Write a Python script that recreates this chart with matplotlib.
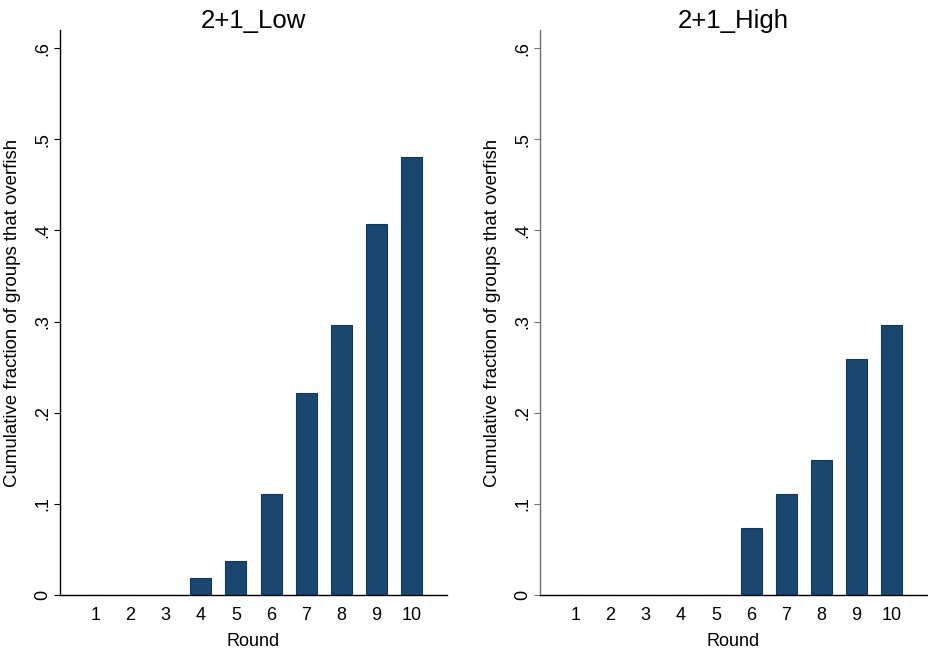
import matplotlib
matplotlib.use("Agg")
import matplotlib.pyplot as plt

rounds = [1, 2, 3, 4, 5, 6, 7, 8, 9, 10]
low = [0, 0, 0, 0.0185, 0.037, 0.111, 0.222, 0.296, 0.407, 0.481]
high = [0, 0, 0, 0, 0, 0.074, 0.111, 0.148, 0.259, 0.296]
titles = ["2+1_Low", "2+1_High"]
yticks = [0, 0.1, 0.2, 0.3, 0.4, 0.5, 0.6]
ytick_labels = ["0", ".1", ".2", ".3", ".4", ".5", ".6"]

plt.rcParams["font.family"] = ["Liberation Sans", "DejaVu Sans"]
navy = "#1a476f"

fig = plt.figure(figsize=(9.29, 6.5), dpi=100)
W, H = 929, 650
# axes boxes in pixels: left, right
boxes = [(60, 447), (540, 927)]
top_px, bottom_px = 30, 595
spine_cols = ["black", "#707070"]

for (l, r), vals, title, scol in zip(boxes, [low, high], titles, spine_cols):
    ax = fig.add_axes([l / W, 1 - bottom_px / H, (r - l) / W, (bottom_px - top_px) / H])
    ax.bar(rounds, vals, width=0.6, color=navy, edgecolor="#12385a", linewidth=0.8)
    ax.set_xlim(0, 11)
    ax.set_ylim(0, 0.62)
    ax.set_xticks(rounds)
    ax.set_xticklabels([str(r_) for r_ in rounds], fontsize=13)
    ax.set_yticks(yticks)
    ax.set_yticklabels(ytick_labels, fontsize=13, rotation=90, va="center")
    ax.tick_params(axis="x", length=0, pad=9)
    ax.tick_params(axis="y", length=4.5, width=0.8, color=scol, pad=1.5)
    for s in ["top", "right"]:
        ax.spines[s].set_visible(False)
    ax.spines["left"].set_color(scol)
    ax.spines["left"].set_linewidth(1.0)
    ax.spines["bottom"].set_linewidth(1.0)
    ax.set_xlabel("Round", fontsize=13, labelpad=6)
    ax.set_ylabel("Cumulative fraction of groups that overfish", fontsize=13.4)
    ax.yaxis.set_label_coords(-0.101, 0.5)
    ax.text(0.5, 1.004, title, transform=ax.transAxes, ha="center", va="baseline", fontsize=18.5)

fig.savefig("out.png", dpi=100)
